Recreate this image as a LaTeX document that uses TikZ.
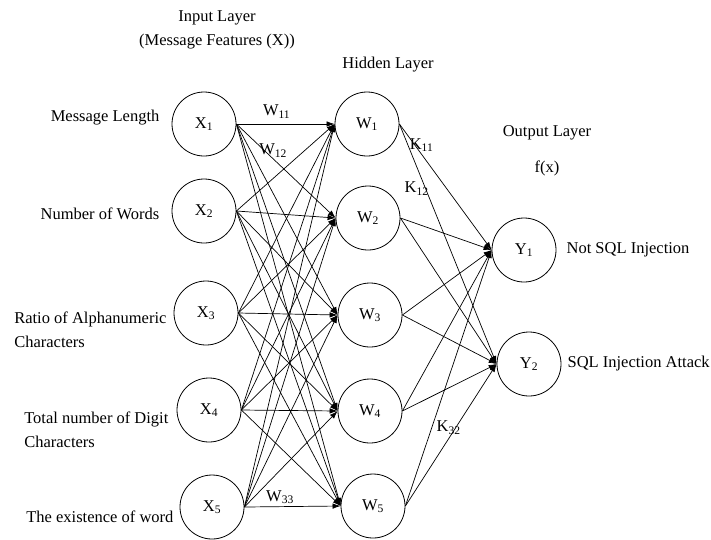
\documentclass[tikz,border=0pt]{standalone}
\usepackage{fontspec}
\setmainfont{Liberation Serif}
\usetikzlibrary{positioning,arrows.meta}
\begin{document}
\begin{tikzpicture}[
  x=1pt, y=-1pt,
  font=\fontsize{16.5}{24}\selectfont,
  neuron/.style={circle, draw, line width=0.8pt, minimum size=64pt, inner sep=0pt},
  link/.style={-{Latex[length=8pt,width=5.5pt]}, line width=0.7pt},
  feature/.style={align=left, inner sep=2pt}
]
\useasboundingbox (0,0) rectangle (711,539);
\node[neuron] (x1) at (204,124) {X\textsubscript{1}};
\node[neuron] (x2) at (204,211) {X\textsubscript{2}};
\node[neuron] (x3) at (206,313) {X\textsubscript{3}};
\node[neuron] (x4) at (209,410) {X\textsubscript{4}};
\node[neuron] (x5) at (212,507) {X\textsubscript{5}};
\node[neuron] (w1) at (367,124) {W\textsubscript{1}};
\node[neuron] (w2) at (368,218) {W\textsubscript{2}};
\node[neuron] (w3) at (370,315) {W\textsubscript{3}};
\node[neuron] (w4) at (370,411) {W\textsubscript{4}};
\node[neuron] (w5) at (373,506) {W\textsubscript{5}};
\node[neuron] (y1) at (524,250) {Y\textsubscript{1}};
\node[neuron] (y2) at (529,364) {Y\textsubscript{2}};

\node[align=center] (inlayer) at (217,30) {Input Layer\\(Message Features (X))};
\node (hidlayer) at (388,65) {Hidden Layer};
\node (outlayer) at (547,133) {Output Layer};
\node (fx) at (547,168) {f(x)};

\node[feature, left=10pt of x1, yshift=6pt] (f1) {Message Length};
\node[feature, left=10pt of x2, yshift=-3pt] (f2) {Number of Words};
\node[feature, left=5pt of x3, yshift=-17pt] (f3) {Ratio of Alphanumeric\\Characters};
\node[feature, left=6pt of x4, yshift=-20pt] (f4) {Total number of Digit\\Characters};
\node[feature, left=4pt of x5, yshift=-10pt] (f5) {The existence of word};
\node[feature, right=8pt of y1] (c1) {Not SQL Injection};
\node[feature, right=4pt of y2] (c2) {SQL Injection Attack};

\foreach \i in {1,...,5}
  \foreach \j in {1,...,5}
    \draw[link] (x\i.east) -- (w\j.west);
\foreach \j in {1,...,5}
  \foreach \k in {1,2}
    \draw[link] (w\j.east) -- (y\k.west);

\path (x1.east) -- node[pos=.41, above=2pt] {W\textsubscript{11}} (w1.west);
\path (x1.east) -- node[pos=.37, above=-2pt] {W\textsubscript{12}} (w2.west);
\path (x5.east) -- node[pos=.37, above=-1pt] {W\textsubscript{33}} (w5.west);
\path (w1.east) -- node[pos=.24, yshift=9pt] {K\textsubscript{11}} (y1.west);
\path (w1.east) -- node[pos=.27, xshift=-9pt] {K\textsubscript{12}} (y2.west);
\path (w5.east) -- node[pos=.55, xshift=-7pt] {K\textsubscript{32}} (y2.west);
\end{tikzpicture}
\end{document}
